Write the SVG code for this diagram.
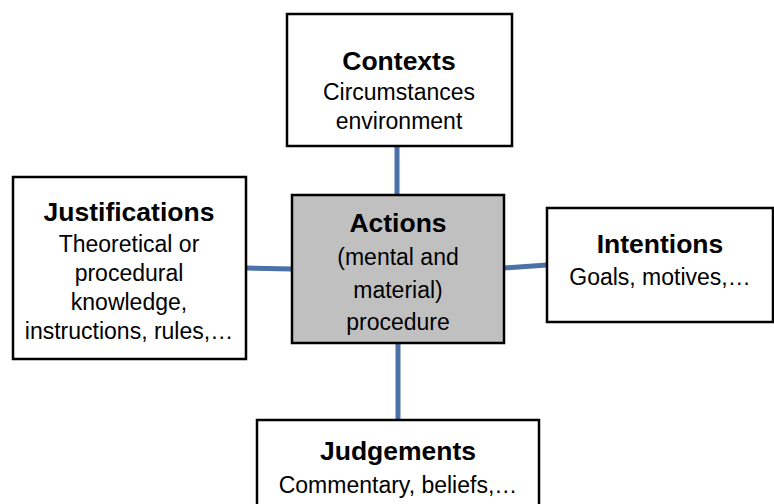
<svg xmlns="http://www.w3.org/2000/svg" width="774" height="504" viewBox="0 0 774 504">
<style>
.box{fill:#ffffff;stroke:#000000;stroke-width:2.5}
.center{fill:#c0c0c0;stroke:#000000;stroke-width:2.5}
.conn{stroke:#4a72a8;stroke-width:5;fill:none}
text{font-family:"Liberation Sans",Arial,sans-serif;text-anchor:middle;fill:#000000}
.t{font-size:26.5px;font-weight:bold}
.b{font-size:23px}
</style>
<rect width="774" height="504" fill="#ffffff"/>
<g id="connectors">
<line class="conn" x1="397" y1="146" x2="397" y2="195"/>
<line class="conn" x1="246" y1="268" x2="292" y2="269"/>
<line class="conn" x1="504" y1="268" x2="547" y2="265"/>
<line class="conn" x1="398" y1="343" x2="398" y2="420"/>
</g>
<g id="contexts">
<rect class="box" x="287" y="14" width="225" height="132"/>
<text class="t" x="399" y="70">Contexts</text>
<text class="b" x="399" y="100">Circumstances</text>
<text class="b" x="399" y="129">environment</text>
</g>
<g id="actions">
<rect class="center" x="292" y="195" width="212" height="148"/>
<text class="t" x="398" y="232">Actions</text>
<text class="b" x="398" y="265">(mental and</text>
<text class="b" x="398" y="298">material)</text>
<text class="b" x="398" y="330">procedure</text>
</g>
<g id="justifications">
<rect class="box" x="13" y="177" width="233" height="182"/>
<text class="t" x="129" y="221">Justifications</text>
<text class="b" x="129" y="252">Theoretical or</text>
<text class="b" x="129" y="281">procedural</text>
<text class="b" x="129" y="310">knowledge,</text>
<text class="b" x="129" y="339">instructions, rules,…</text>
</g>
<g id="intentions">
<rect class="box" x="547" y="208" width="226" height="114"/>
<text class="t" x="660" y="253">Intentions</text>
<text class="b" x="660" y="285">Goals, motives,…</text>
</g>
<g id="judgements">
<rect class="box" x="257" y="420" width="282" height="90"/>
<text class="t" x="398" y="460">Judgements</text>
<text class="b" x="398" y="493">Commentary, beliefs,…</text>
</g>
</svg>
